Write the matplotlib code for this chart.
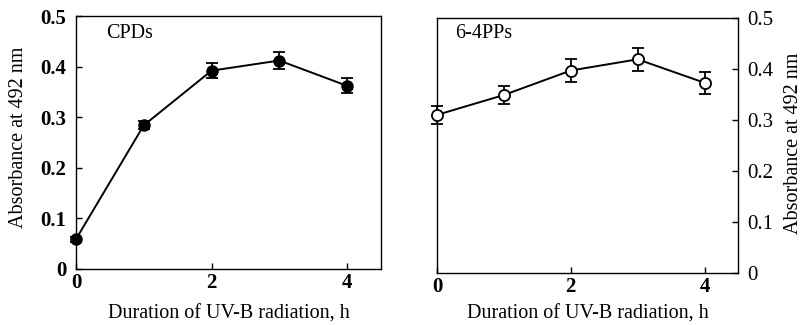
import numpy as np
import matplotlib.pyplot as plt

plt.rcParams['font.family'] = ['Liberation Serif', 'DejaVu Serif']

# UV-B duration (h)
hours = [0, 1, 2, 3, 4]

# CPDs (filled circles)
cpd_mean = [0.059, 0.284, 0.392, 0.412, 0.362]
cpd_err = [0.005, 0.008, 0.015, 0.016, 0.015]

# 6-4PPs (open circles)
pp_mean = [0.310, 0.349, 0.397, 0.419, 0.373]
pp_err = [0.017, 0.018, 0.023, 0.023, 0.022]

FS = 14.5
TFS = 15

fig = plt.figure(figsize=(8.03, 3.25), dpi=100)
W, H = 803, 325
ax1 = fig.add_axes([76 / W, 1 - 269 / H, 305 / W, 253 / H])
ax2 = fig.add_axes([437 / W, 1 - 273 / H, 301 / W, 255 / H])


def style_axis(ax, y_right=False, lpad=8):
    ax.set_xlim(0, 4.5)
    ax.set_ylim(0, 0.5)
    ax.set_xticks([0, 2, 4])
    ax.set_yticks([0, 0.1, 0.2, 0.3, 0.4, 0.5])
    ax.set_yticklabels(['0', '0.1', '0.2', '0.3', '0.4', '0.5'])
    ax.tick_params(direction='in', length=4, width=1, labelsize=TFS)
    ax.tick_params(axis='y', pad=7)
    ax.tick_params(axis='x', pad=3)
    for s in ax.spines.values():
        s.set_linewidth(1.0)
    if y_right:
        ax.yaxis.tick_right()
        ax.yaxis.set_label_position('right')
    ax.set_xlabel('Duration of UV-B radiation, h', fontsize=FS, labelpad=lpad)
    for lab in ax.get_xticklabels():
        lab.set_fontweight('bold')


ax1.errorbar(hours, cpd_mean, yerr=cpd_err, color='black', lw=1.4,
             marker='o', ms=8, mfc='black', mec='black',
             capsize=4, elinewidth=1.3, capthick=1.3, clip_on=False, zorder=3)
style_axis(ax1)
for lab in ax1.get_yticklabels():
    lab.set_fontweight('bold')
ax1.set_ylabel('Absorbance at 492 nm', fontsize=FS, va='center')
ax1.yaxis.set_label_coords(-0.19, 0.52)
ax1.text(0.10, 0.93, 'CPDs', transform=ax1.transAxes, fontsize=FS,
         va='center', ha='left')

ax2.errorbar(hours, pp_mean, yerr=pp_err, color='black', lw=1.4,
             marker='o', ms=8, mfc='white', mec='black', mew=1.3,
             capsize=4, elinewidth=1.3, capthick=1.3, clip_on=False, zorder=3)
style_axis(ax2, y_right=True, lpad=5)
ax2.set_ylabel('Absorbance at 492 nm', fontsize=FS, va='center')
ax2.yaxis.set_label_coords(1.183, 0.51)
ax2.text(0.06, 0.94, '6-4PPs', transform=ax2.transAxes, fontsize=FS,
         va='center', ha='left')

fig.savefig('out.png', dpi=100)
